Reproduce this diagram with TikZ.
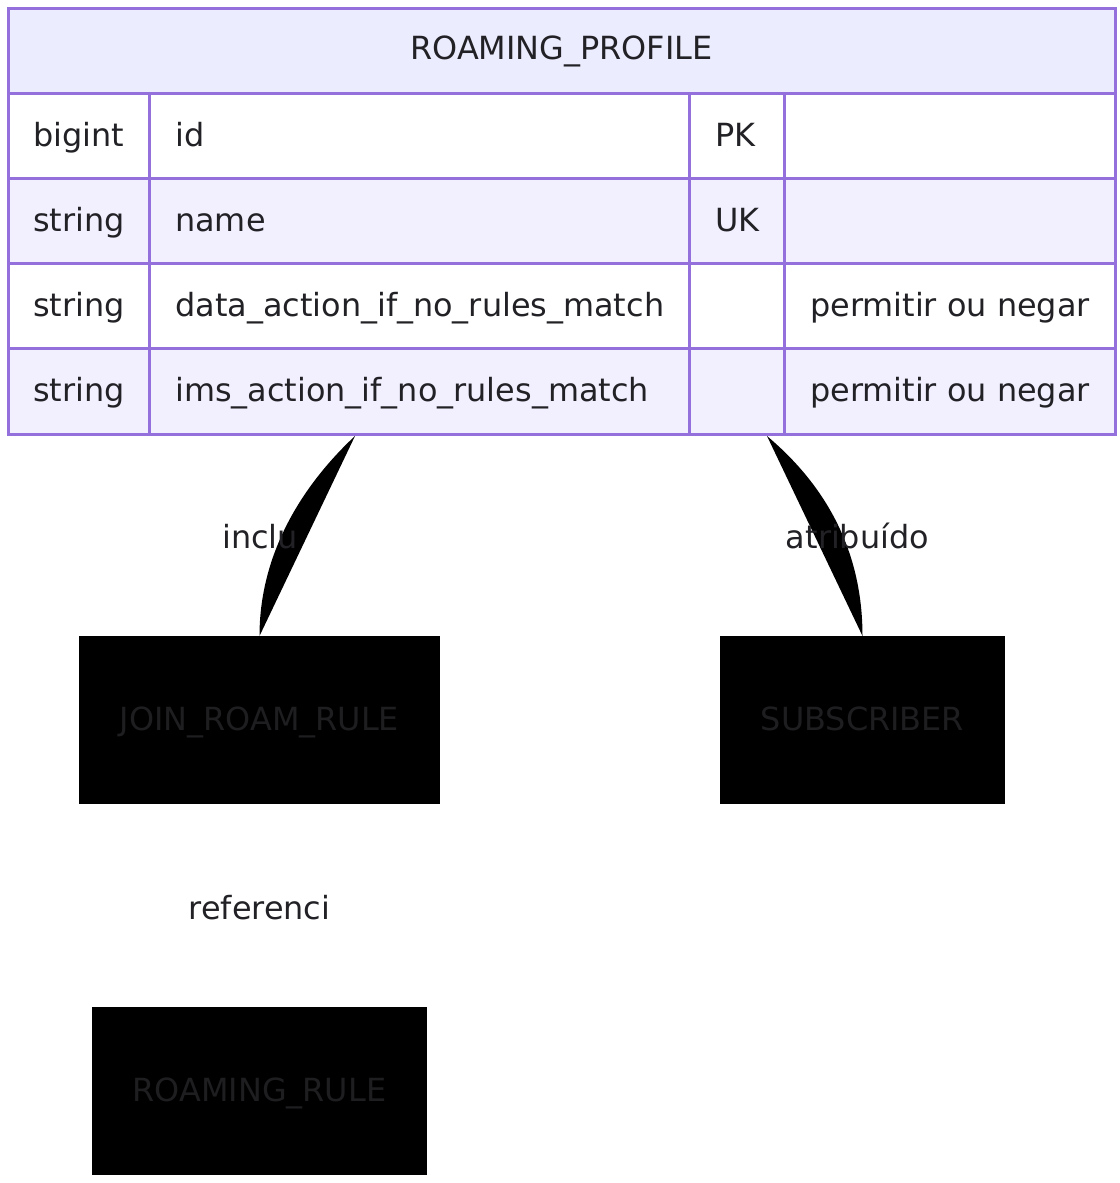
\documentclass[tikz,border=0pt]{standalone}
\usepackage{fontspec}
\setmainfont{DejaVu Sans}
\usetikzlibrary{positioning}
\definecolor{erline}{HTML}{9370DB}
\definecolor{erhead}{HTML}{ECECFF}
\definecolor{errow}{HTML}{F2F0FF}
\definecolor{ertext}{HTML}{222226}
\definecolor{boxtext}{HTML}{1E1E21}

\begin{document}
\begin{tikzpicture}[x=1pt, y=-1pt, font=\fontsize{31.9}{38}\selectfont, text=ertext,
    cell/.style={draw=erline, line width=3pt, anchor=north west, inner sep=0pt, outer sep=0pt, minimum height=85.25pt},
    attr/.style={anchor=base west, inner sep=0pt},
    entbox/.style={fill=black, text=boxtext, minimum height=168pt, inner sep=0pt, outer sep=0pt, text height=23pt, text depth=3pt},
    rel/.style={fill=black},
    rlabel/.style={anchor=base, inner sep=0pt}]
    \useasboundingbox (0,0) rectangle (1119,1183);
    % entity table: header, then one row per attribute
    \node[cell, fill=erhead, minimum width=1107pt] (hdr) at (8,8) {};
    \node[rlabel] (hdrtxt) at (561.5,59) {ROAMING\_PROFILE};
    \foreach \r/\fc/\ty/\nm/\ky/\cm in {1/white/bigint/id/PK/,
        2/errow/string/name/UK/,
        3/white/string/data\_action\_if\_no\_rules\_match//permitir ou negar,
        4/errow/string/ims\_action\_if\_no\_rules\_match//permitir ou negar} {
      \pgfmathsetmacro\yy{93+(\r-1)*85.25}
      \node[cell, fill=\fc, minimum width=141pt] (c\r a) at (8,\yy) {};
      \node[cell, fill=\fc, minimum width=540pt] (c\r b) at (149,\yy) {};
      \node[cell, fill=\fc, minimum width=95pt] (c\r c) at (689,\yy) {};
      \node[cell, fill=\fc, minimum width=331pt] (c\r d) at (784,\yy) {};
      \node[attr] (t\r a) at (33,\yy+53) {\ty};
      \node[attr] (t\r b) at (175,\yy+53) {\nm};
      \node[attr] (t\r c) at (715,\yy+53) {\ky};
      \node[attr] (t\r d) at (810,\yy+53) {\cm};
    }
    % related entities (rendered as black boxes)
    \node[entbox, minimum width=361pt] (jrr) at (259.5,720) {JOIN\_ROAM\_RULE};
    \node[entbox, minimum width=285pt, right=280pt of jrr] (sub) {SUBSCRIBER};
    \node[entbox, minimum width=335pt, below=203pt of jrr] (rr) {ROAMING\_RULE};
    % relationship lines, filled lens shapes
    \coordinate (incTop) at (355,436);
    \coordinate (atrTop) at (767,436);
    \fill[rel] (incTop) -- (jrr.north) .. controls +(0,-90) and +(-45,42) .. (incTop);
    \fill[rel] (atrTop) -- (sub.north) .. controls +(0,-100) and +(45,38) .. (atrTop);
    \node[rlabel] (linclu) at (260,548) {inclu};
    \node[rlabel] (latrib) at (857.5,548) {atribuído};
    \node[rlabel] (lref) at (259.5,919) {referenci};
  \end{tikzpicture}
\end{document}
